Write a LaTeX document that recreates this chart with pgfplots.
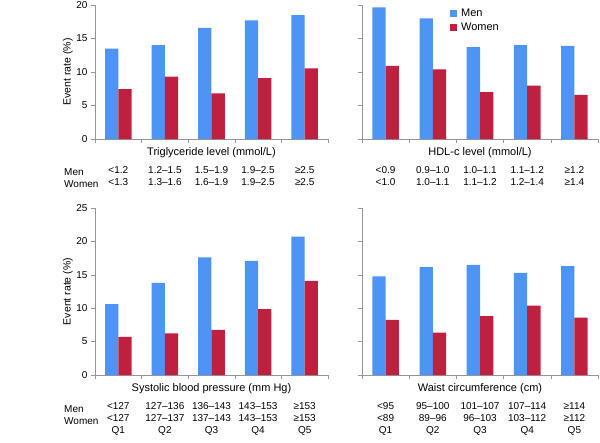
\documentclass[border=0pt]{standalone}
\usepackage{fontspec}
\setmainfont{Liberation Sans}
\usepackage{pgfplots}
\pgfplotsset{compat=1.18}

\definecolor{menblue}{RGB}{77,148,245}
\definecolor{womenred}{RGB}{192,32,64}
\definecolor{axgray}{RGB}{150,150,150}

\pgfplotsset{
  panel/.style={
    scale only axis,
    ybar=0pt, bar width=13.3pt,
    xmin=-0.5, xmax=4.5, ymin=0,
    enlargelimits=false, clip=false,
    axis x line*=bottom, axis y line*=left,
    axis line style={draw=axgray},
    tick align=outside,
    xtick={0,...,4}, major x tick style={draw=none},
    minor xtick={-0.5,0.5,...,4.5},
    minor tick length=4pt, major tick length=4pt,
    every tick/.style={draw=axgray},
    ytick distance=5,
    /pgf/number format/assume math mode=true,
    tick label style={font=\fontsize{10}{12}\selectfont},
    xticklabel style={anchor=north, align=center, yshift=-20pt},
    xlabel style={font=\fontsize{11}{12}\selectfont, at={(axis description cs:0.5,0)}, anchor=center, yshift=-14pt},
    ylabel style={font=\fontsize{10.5}{12}\selectfont, anchor=center},
  },
}

\begin{document}
\begin{tikzpicture}
\useasboundingbox (0,0) rectangle (600pt,-442pt);

% top left: triglycerides
\begin{axis}[panel, at={(95pt,-139pt)}, anchor=south west,
    width=233pt, height=134pt, ymax=20,
    xlabel={Triglyceride level (mmol/L)}, ylabel={Event rate (\%)},
    ylabel style={at={(axis description cs:-0.116,0.5)}},
    xticklabels={{<1.2\\<1.3},{1.2–1.5\\1.3–1.6},{1.5–1.9\\1.6–1.9},{1.9–2.5\\1.9–2.5},{≥2.5\\≥2.5}}]
\addplot[fill=menblue, draw=none] coordinates {(0,13.5) (1,14.0) (2,16.6) (3,17.7) (4,18.5)};
\addplot[fill=womenred, draw=none] coordinates {(0,7.45) (1,9.3) (2,6.8) (3,9.1) (4,10.55)};
\end{axis}

% top right: HDL-c
\begin{axis}[panel, at={(362pt,-139pt)}, anchor=south west,
    width=236pt, height=134pt, ymax=20, yticklabels={},
    xlabel={HDL-c level (mmol/L)},
    xticklabels={{<0.9\\<1.0},{0.9–1.0\\1.0–1.1},{1.0–1.1\\1.1–1.2},{1.1–1.2\\1.2–1.4},{≥1.2\\≥1.4}},
    legend cell align=left,
    legend style={draw=none, fill=none, at={(0.36,1.0)}, anchor=north west,
      font=\fontsize{11}{13}\selectfont, row sep=1pt},
    legend image code/.code={\fill[#1] (0pt,-3pt) rectangle (6.5pt,3.5pt); \path (9pt,0pt);}]
\addplot[fill=menblue, draw=none] coordinates {(0,19.65) (1,18.0) (2,13.7) (3,14.0) (4,13.9)};
\addplot[fill=womenred, draw=none] coordinates {(0,10.9) (1,10.4) (2,7.0) (3,7.95) (4,6.6)};
\legend{Men,Women}
\end{axis}

% bottom left: systolic blood pressure
\begin{axis}[panel, at={(95pt,-375pt)}, anchor=south west,
    width=233pt, height=167pt, ymax=25,
    xlabel={Systolic blood pressure (mm Hg)}, ylabel={Event rate (\%)},
    ylabel style={at={(axis description cs:-0.116,0.5)}},
    xticklabels={{<127\\<127\\Q1},{127–136\\127–137\\Q2},{136–143\\137–143\\Q3},{143–153\\143–153\\Q4},{≥153\\≥153\\Q5}}]
\addplot[fill=menblue, draw=none] coordinates {(0,10.6) (1,13.8) (2,17.6) (3,17.1) (4,20.7)};
\addplot[fill=womenred, draw=none] coordinates {(0,5.7) (1,6.25) (2,6.75) (3,9.85) (4,14.1)};
\end{axis}

% bottom right: waist circumference
\begin{axis}[panel, at={(362pt,-375pt)}, anchor=south west,
    width=236pt, height=167pt, ymax=25, yticklabels={},
    xlabel={Waist circumference (cm)},
    xticklabels={{<95\\<89\\Q1},{95–100\\89–96\\Q2},{101–107\\96–103\\Q3},{107–114\\103–112\\Q4},{≥114\\≥112\\Q5}}]
\addplot[fill=menblue, draw=none] coordinates {(0,14.75) (1,16.15) (2,16.5) (3,15.3) (4,16.3)};
\addplot[fill=womenred, draw=none] coordinates {(0,8.25) (1,6.35) (2,8.8) (3,10.4) (4,8.6)};
\end{axis}

% row headers of the range tables
\begin{scope}[every node/.style={anchor=west, inner sep=0pt, font=\fontsize{10}{12}\selectfont}]
\node at (64pt,-172pt) {Men};
\node at (64pt,-184pt) {Women};
\node at (64pt,-409pt) {Men};
\node at (64pt,-421pt) {Women};
\end{scope}
\end{tikzpicture}
\end{document}
